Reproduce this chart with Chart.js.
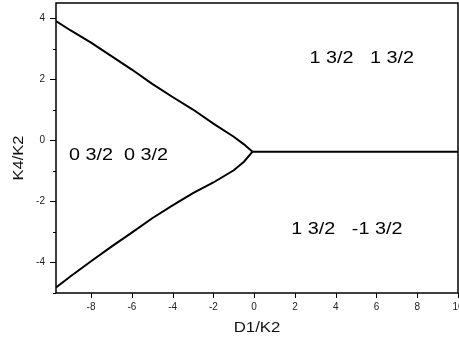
<!DOCTYPE html>
<html>
<head>
<meta charset="utf-8">
<script src="https://cdn.jsdelivr.net/npm/chart.js@4"></script>
<style>
  html, body { margin: 0; padding: 0; background: #fff; }
  #wrap { width: 459px; height: 342px; }
</style>
</head>
<body>
<div id="wrap"><canvas id="phase"></canvas></div>
<script>
// upper branch (K4/K2 vs D1/K2)
const upperX = [-9.72, -9, -8, -7, -6, -5, -4, -3, -2, -1, -0.5, -0.08];
const upperY = [3.91, 3.60, 3.20, 2.76, 2.32, 1.85, 1.42, 1.01, 0.55, 0.12, -0.13, -0.37];
// lower branch
const lowerX = [-9.72, -9, -8, -7, -6, -5, -4, -3, -2, -1, -0.5, -0.08];
const lowerY = [-4.82, -4.45, -3.96, -3.48, -3.02, -2.55, -2.13, -1.73, -1.38, -0.98, -0.70, -0.37];
// horizontal branch
const flatX = [-0.08, 10];
const flatY = [-0.37, -0.37];

const xTicks = [-8, -6, -4, -2, 0, 2, 4, 6, 8, 10];
const yTicks = [-4, -2, 0, 2, 4];
const yMinorTicks = [-5, -3, -1, 1, 3];

const regionText = ['0 3/2  0 3/2', '1 3/2   1 3/2', '1 3/2   -1 3/2'];
const regionX = [-6.65, 5.28, 4.55];
const regionY = [-0.48, 2.67, -2.91];

const xTitle = 'D1/K2';
const yTitle = 'K4/K2';

const FONT = 'Arial, "Liberation Sans", sans-serif';

function pts(xs, ys) {
    return xs.map((x, i) => ({ x: x, y: ys[i] }));
}

const lineStyle = {
    borderColor: '#000',
    borderWidth: 2,
    pointRadius: 0,
    showLine: true,
    fill: false,
    tension: 0
};

// drop the extra room chart.js keeps for overhanging tick labels
function noPad(s) {
    s.paddingTop = 0;
    s.paddingBottom = 0;
    s.paddingLeft = 0;
    s.paddingRight = 0;
}

// text in the original is a bit wider than plain Arial
function wideText(ctx, text, x, y, sx, angle) {
    ctx.save();
    ctx.translate(x, y);
    if (angle) ctx.rotate(angle);
    ctx.scale(sx, 1);
    ctx.fillText(text, 0, 0);
    ctx.restore();
}

const framePlugin = {
    id: 'frame',
    afterDraw(chart) {
        const ctx = chart.ctx;
        const a = chart.chartArea;
        const xs = chart.scales.x;
        const ys = chart.scales.y;
        ctx.save();
        ctx.strokeStyle = '#000';
        ctx.lineWidth = 1.5;
        ctx.strokeRect(a.left, a.top, a.right - a.left, a.bottom - a.top);

        // tick marks
        ctx.lineWidth = 1;
        ctx.beginPath();
        xTicks.forEach(v => {
            const px = Math.round(xs.getPixelForValue(v)) + 0.5;
            ctx.moveTo(px, a.bottom);
            ctx.lineTo(px, a.bottom + 5);
        });
        yTicks.forEach(v => {
            const py = Math.round(ys.getPixelForValue(v)) + 0.5;
            ctx.moveTo(a.left - 6, py);
            ctx.lineTo(a.left, py);
        });
        yMinorTicks.forEach(v => {
            const py = Math.round(ys.getPixelForValue(v)) + 0.5;
            ctx.moveTo(a.left - 3, py);
            ctx.lineTo(a.left, py);
        });
        ctx.stroke();

        // region labels
        ctx.fillStyle = '#000';
        ctx.font = '16.5px ' + FONT;
        ctx.textAlign = 'center';
        ctx.textBaseline = 'middle';
        regionText.forEach((t, i) => {
            wideText(ctx, t, xs.getPixelForValue(regionX[i]), ys.getPixelForValue(regionY[i]), 1.2, 0);
        });

        // axis titles
        ctx.fillStyle = '#111';
        ctx.font = '15px ' + FONT;
        wideText(ctx, xTitle, (a.left + a.right) / 2, a.bottom + 35, 1.12, 0);
        wideText(ctx, yTitle, 19, (a.top + a.bottom) / 2 + 10, 1.1, -Math.PI / 2);
        ctx.restore();
    }
};

new Chart(document.getElementById('phase'), {
    type: 'scatter',
    data: {
        datasets: [
            Object.assign({ label: 'upper', data: pts(upperX, upperY) }, lineStyle),
            Object.assign({ label: 'lower', data: pts(lowerX, lowerY) }, lineStyle),
            Object.assign({ label: 'flat', data: pts(flatX, flatY) }, lineStyle)
        ]
    },
    options: {
        responsive: true,
        maintainAspectRatio: false,
        animation: false,
        layout: { padding: { top: 3, right: 1, left: 0, bottom: 0 } },
        plugins: {
            legend: { display: false },
            tooltip: { enabled: false }
        },
        scales: {
            x: {
                type: 'linear',
                min: -9.72,
                max: 10,
                grid: { display: false, tickLength: 8 },
                border: { display: false },
                afterBuildTicks: s => { s.ticks = xTicks.map(v => ({ value: v })); },
                afterFit: s => { s.height = 49; noPad(s); },
                ticks: {
                    autoSkip: false,
                    maxRotation: 0,
                    padding: 0,
                    color: '#222',
                    font: { family: FONT, size: 10 }
                }
            },
            y: {
                type: 'linear',
                min: -5,
                max: 4.5,
                grid: { display: false, tickLength: 8 },
                border: { display: false },
                afterBuildTicks: s => { s.ticks = yTicks.map(v => ({ value: v })); },
                afterFit: s => { s.width = 56; noPad(s); },
                ticks: {
                    autoSkip: false,
                    padding: 3,
                    color: '#222',
                    font: { family: FONT, size: 10 }
                }
            }
        }
    },
    plugins: [framePlugin]
});
</script>
</body>
</html>
